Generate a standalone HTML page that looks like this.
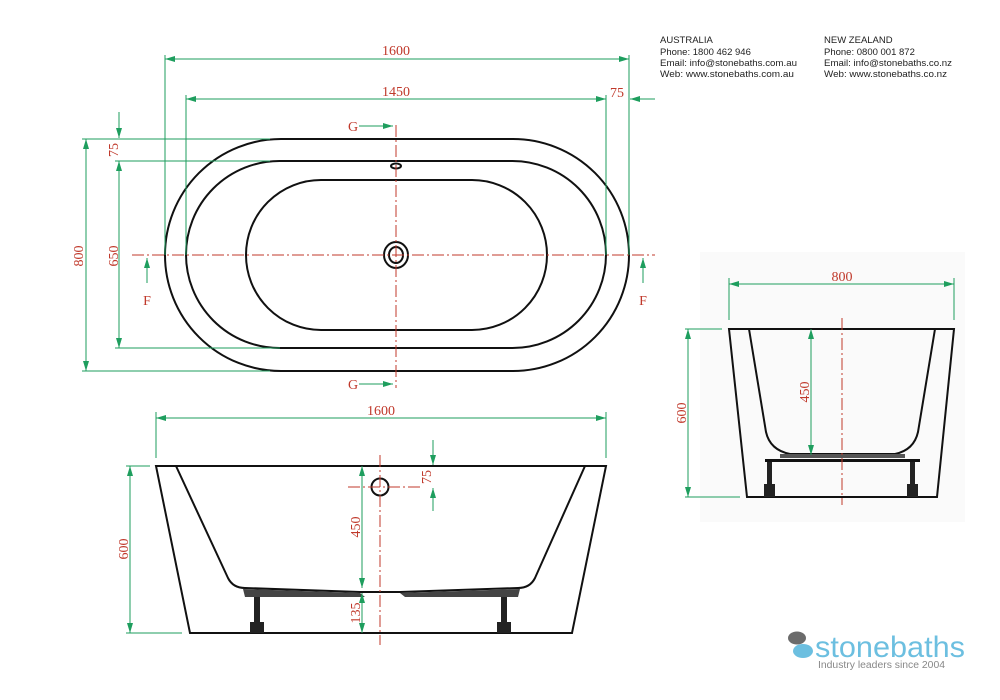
<!DOCTYPE html>
<html><head><meta charset="utf-8"><style>
html,body{margin:0;padding:0;background:#fff;width:1000px;height:700px;overflow:hidden}
svg{display:block}
.d{font-family:"Liberation Serif",serif;font-size:14px;fill:#c0392b}
.g{stroke:#1e9e5e;stroke-width:1;fill:none}
.r{stroke:#c0392b;stroke-width:1;fill:none;stroke-dasharray:12 3 2 3}
.k{stroke:#111;stroke-width:2;fill:none}
.c{font-family:"Liberation Sans",sans-serif;font-size:9.5px;fill:#222}
</style></head><body>
<svg width="1000" height="700" viewBox="0 0 1000 700" xmlns="http://www.w3.org/2000/svg">
<defs>
<marker id="a" viewBox="0 0 10 6" refX="10" refY="3" markerWidth="10" markerHeight="6" orient="auto-start-reverse" markerUnits="userSpaceOnUse"><path d="M0,0 L10,3 L0,6 z" fill="#1e9e5e"/></marker>
</defs>
<rect x="700" y="252" width="265" height="270" fill="#fafafa"/>

<!-- TOP VIEW -->
<rect x="165" y="139" width="464" height="232" rx="116" class="k"/>
<rect x="186" y="161" width="420" height="187" rx="93.5" class="k"/>
<rect x="246" y="180" width="301" height="150" rx="75" class="k"/>
<ellipse cx="396" cy="255" rx="12" ry="13" class="k" stroke-width="1.5"/>
<ellipse cx="396" cy="255" rx="7" ry="8" class="k" stroke-width="1.5"/>
<ellipse cx="396" cy="166" rx="5" ry="2.5" class="k" stroke-width="1.5"/>
<line x1="132" y1="255" x2="655" y2="255" class="r"/>
<line x1="396" y1="125" x2="396" y2="388" class="r"/>
<line x1="165" y1="55" x2="165" y2="255" class="g"/>
<line x1="629" y1="55" x2="629" y2="255" class="g"/>
<line x1="165" y1="59" x2="629" y2="59" class="g" marker-start="url(#a)" marker-end="url(#a)"/>
<text x="396" y="55" class="d" text-anchor="middle">1600</text>
<line x1="186" y1="95" x2="186" y2="255" class="g"/>
<line x1="606" y1="95" x2="606" y2="255" class="g"/>
<line x1="186" y1="99" x2="606" y2="99" class="g" marker-start="url(#a)" marker-end="url(#a)"/>
<text x="396" y="96" class="d" text-anchor="middle">1450</text>
<line x1="655" y1="99" x2="630" y2="99" class="g" marker-end="url(#a)"/>
<text x="617" y="97" class="d" text-anchor="middle">75</text>
<line x1="82" y1="139" x2="270" y2="139" class="g"/>
<line x1="82" y1="371" x2="270" y2="371" class="g"/>
<line x1="86" y1="139" x2="86" y2="371" class="g" marker-start="url(#a)" marker-end="url(#a)"/>
<text transform="translate(83,256) rotate(-90)" class="d" text-anchor="middle">800</text>
<line x1="115" y1="161" x2="270" y2="161" class="g"/>
<line x1="115" y1="348" x2="280" y2="348" class="g"/>
<line x1="119" y1="161" x2="119" y2="348" class="g" marker-start="url(#a)" marker-end="url(#a)"/>
<text transform="translate(118,256) rotate(-90)" class="d" text-anchor="middle">650</text>
<line x1="119" y1="112" x2="119" y2="138" class="g" marker-end="url(#a)"/>
<text transform="translate(118,150) rotate(-90)" class="d" text-anchor="middle">75</text>
<line x1="147" y1="283" x2="147" y2="258" class="g" marker-end="url(#a)"/>
<text x="147" y="305" class="d" text-anchor="middle">F</text>
<line x1="643" y1="283" x2="643" y2="258" class="g" marker-end="url(#a)"/>
<text x="643" y="305" class="d" text-anchor="middle">F</text>
<text x="353" y="131" class="d" text-anchor="middle">G</text>
<line x1="359" y1="126" x2="393" y2="126" class="g" marker-end="url(#a)"/>
<text x="353" y="389" class="d" text-anchor="middle">G</text>
<line x1="359" y1="384" x2="393" y2="384" class="g" marker-end="url(#a)"/>

<!-- SIDE VIEW -->
<path d="M156,466 L606,466 L572,633 L190,633 Z" class="k" stroke-width="2.2"/>
<path d="M176,466 L228,578 Q233,588 245,588 L360,592 L400,592 L518,588 Q530,588 535,578 L585,466" class="k" stroke-width="1.8"/>
<path d="M243,589 L360,593 L365,597 L245,597 Z" fill="#444"/>
<path d="M400,593 L520,589 L518,597 L405,597 Z" fill="#444"/>
<rect x="254" y="597" width="6" height="36" fill="#222"/>
<rect x="250" y="622" width="14" height="11" fill="#222"/>
<rect x="501" y="597" width="6" height="36" fill="#222"/>
<rect x="497" y="622" width="14" height="11" fill="#222"/>
<circle cx="380" cy="487" r="8.5" class="k" stroke-width="1.8"/>
<line x1="380" y1="455" x2="380" y2="645" class="r"/>
<line x1="348" y1="487" x2="422" y2="487" class="r"/>
<line x1="156" y1="412" x2="156" y2="458" class="g"/>
<line x1="606" y1="412" x2="606" y2="458" class="g"/>
<line x1="156" y1="418" x2="606" y2="418" class="g" marker-start="url(#a)" marker-end="url(#a)"/>
<text x="381" y="415" class="d" text-anchor="middle">1600</text>
<line x1="126" y1="466" x2="150" y2="466" class="g"/>
<line x1="126" y1="633" x2="182" y2="633" class="g"/>
<line x1="130" y1="466" x2="130" y2="633" class="g" marker-start="url(#a)" marker-end="url(#a)"/>
<text transform="translate(128,549) rotate(-90)" class="d" text-anchor="middle">600</text>
<line x1="362" y1="466" x2="362" y2="588" class="g" marker-start="url(#a)" marker-end="url(#a)"/>
<text transform="translate(360,527) rotate(-90)" class="d" text-anchor="middle">450</text>
<line x1="362" y1="593" x2="362" y2="633" class="g" marker-start="url(#a)" marker-end="url(#a)"/>
<text transform="translate(360,613) rotate(-90)" class="d" text-anchor="middle">135</text>
<line x1="433" y1="440" x2="433" y2="465" class="g" marker-end="url(#a)"/>
<line x1="433" y1="511" x2="433" y2="488" class="g" marker-end="url(#a)"/>
<text transform="translate(431,477) rotate(-90)" class="d" text-anchor="middle">75</text>

<!-- END VIEW -->
<path d="M729,329 L954,329 L937,497 L747,497 Z" class="k" stroke-width="2.2"/>
<path d="M749,329 L766,432 Q770,450 790,454 L895,454 Q914,450 918,432 L935,329" class="k" stroke-width="1.8"/>
<rect x="780" y="454" width="125" height="4" fill="#555"/>
<rect x="765" y="459" width="155" height="3" fill="#111"/>
<rect x="767" y="462" width="5" height="35" fill="#222"/>
<rect x="764" y="484" width="11" height="13" fill="#222"/>
<rect x="910" y="462" width="5" height="35" fill="#222"/>
<rect x="907" y="484" width="11" height="13" fill="#222"/>
<line x1="842" y1="318" x2="842" y2="505" class="r"/>
<line x1="729" y1="278" x2="729" y2="320" class="g"/>
<line x1="954" y1="278" x2="954" y2="320" class="g"/>
<line x1="729" y1="284" x2="954" y2="284" class="g" marker-start="url(#a)" marker-end="url(#a)"/>
<text x="842" y="281" class="d" text-anchor="middle">800</text>
<line x1="685" y1="329" x2="722" y2="329" class="g"/>
<line x1="685" y1="497" x2="740" y2="497" class="g"/>
<line x1="688" y1="329" x2="688" y2="497" class="g" marker-start="url(#a)" marker-end="url(#a)"/>
<text transform="translate(686,413) rotate(-90)" class="d" text-anchor="middle">600</text>
<line x1="811" y1="329" x2="811" y2="455" class="g" marker-start="url(#a)" marker-end="url(#a)"/>
<text transform="translate(809,392) rotate(-90)" class="d" text-anchor="middle">450</text>

<!-- contact -->
<text x="660" y="43" class="c">AUSTRALIA</text>
<text x="660" y="55" class="c">Phone: 1800 462 946</text>
<text x="660" y="66" class="c" textLength="137" lengthAdjust="spacingAndGlyphs">Email: info@stonebaths.com.au</text>
<text x="660" y="77" class="c" textLength="134" lengthAdjust="spacingAndGlyphs">Web: www.stonebaths.com.au</text>
<text x="824" y="43" class="c">NEW ZEALAND</text>
<text x="824" y="55" class="c">Phone: 0800 001 872</text>
<text x="824" y="66" class="c" textLength="128" lengthAdjust="spacingAndGlyphs">Email: info@stonebaths.co.nz</text>
<text x="824" y="77" class="c" textLength="123" lengthAdjust="spacingAndGlyphs">Web: www.stonebaths.co.nz</text>

<!-- logo -->
<ellipse cx="797" cy="638" rx="9" ry="6.5" fill="#6b6b6b"/>
<ellipse cx="803" cy="651" rx="10" ry="7" fill="#6cbfe0"/>
<text x="815" y="657" font-family="Liberation Sans,sans-serif" font-size="30" fill="#6cbfe0" textLength="150" lengthAdjust="spacingAndGlyphs">stonebaths</text>
<text x="818" y="668" font-family="Liberation Sans,sans-serif" font-size="10" fill="#888" textLength="127" lengthAdjust="spacingAndGlyphs">Industry leaders since 2004</text>
</svg>
</body></html>
